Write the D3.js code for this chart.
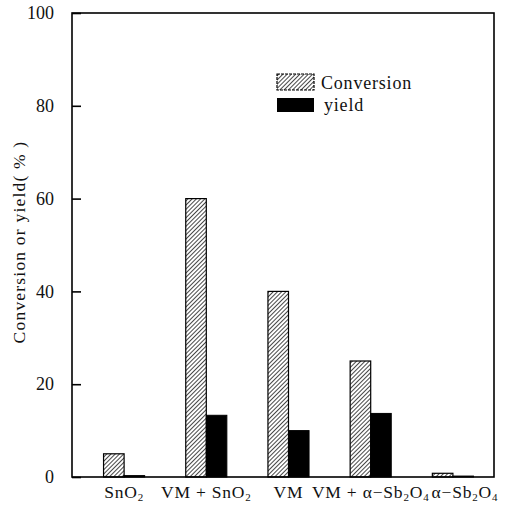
<!DOCTYPE html>
<html><head><meta charset="utf-8">
<script src="https://cdn.jsdelivr.net/npm/d3@7"></script>
<style>body{margin:0;background:#fff}svg{display:block}text{font-family:"Liberation Serif","DejaVu Serif",serif;fill:#111}</style>
</head><body><svg id="c" width="505" height="507"></svg>
<script>
const categories = ["SnO2", "VM+SnO2", "VM", "VM+α−Sb2O4", "α−Sb2O4"];
const conversion = [5, 60, 40, 25, 0.8];
const yieldVals = [0.3, 13.3, 10, 13.7, 0.2];
const yTicks = [0, 20, 40, 60, 80, 100];
const seriesNames = ["Conversion", "yield"];
const yTitle = "Conversion or yield( % )";

const FONT = '"Liberation Serif","DejaVu Serif",serif';
const svg = d3.select("#c");
const L = 72, R = 494, T = 13, B = 477;
const y = d3.scaleLinear().domain([0, 100]).range([B, T]);
const x = d3.scaleBand().domain(categories).range([83, 494]).padding(0);
const xs = d3.scaleBand().domain(["c", "y"]).range([0, x.bandwidth()]).paddingInner(0).paddingOuter(1);

const defs = svg.append("defs");
const pat = defs.append("pattern").attr("id", "hatch").attr("patternUnits", "userSpaceOnUse")
  .attr("width", 3).attr("height", 3).attr("patternTransform", "rotate(45)");
pat.append("rect").attr("width", 3).attr("height", 3).attr("fill", "#fff");
pat.append("line").attr("x1", 0.5).attr("x2", 0.5).attr("y1", 0).attr("y2", 3).attr("stroke", "#333").attr("stroke-width", 0.9);

// bars
const g = svg.append("g");
categories.forEach((c, i) => {
  g.append("rect").attr("x", x(c) + xs("c")).attr("width", xs.bandwidth())
    .attr("y", y(conversion[i])).attr("height", y(0) - y(conversion[i]))
    .attr("fill", "url(#hatch)").attr("stroke", "#000").attr("stroke-width", 1.2);
  g.append("rect").attr("x", x(c) + xs("y")).attr("width", xs.bandwidth())
    .attr("y", y(yieldVals[i])).attr("height", y(0) - y(yieldVals[i]))
    .attr("fill", "#000").attr("stroke", "#000").attr("stroke-width", 1);
});

// frame
svg.append("rect").attr("x", L).attr("y", T).attr("width", R - L).attr("height", B - T)
  .attr("fill", "none").attr("stroke", "#000").attr("stroke-width", 1.6);

// y axis
const yAxis = d3.axisLeft(y).tickValues(yTicks).tickSizeInner(-9).tickSizeOuter(0).tickPadding(18);
const ya = svg.append("g").attr("transform", `translate(${L},0)`).call(yAxis)
  .attr("font-family", FONT).attr("font-size", 18);
ya.select(".domain").remove();
ya.selectAll(".tick line").attr("stroke", "#000").attr("stroke-width", 1.6);
ya.selectAll(".tick text").attr("fill", "#111");

svg.append("text").attr("transform", `translate(25,242) rotate(-90)`)
  .attr("text-anchor", "middle").attr("font-size", 17.5).attr("letter-spacing", 1.2).text(yTitle);

// x labels
function addLabel(sel, s) {
  const parts = s.replace("+", " + ").match(/(\d+|[^\d]+)/g);
  let shifted = false;
  parts.forEach(p => {
    if (/^\d+$/.test(p)) {
      sel.append("tspan").attr("font-size", 11).attr("dy", 3).text(p);
      shifted = true;
    } else {
      const ts = sel.append("tspan").text(p);
      if (shifted) { ts.attr("dy", -3); shifted = false; }
    }
  });
}
let prevEnd = -Infinity;
categories.forEach((c, i) => {
  const cx = x(c) + x.bandwidth() / 2;
  const t = svg.append("text").attr("y", 498).attr("font-size", 17.5).attr("letter-spacing", 0.8)
    .attr("text-anchor", "start");
  addLabel(t, c);
  const w = t.node().getComputedTextLength();
  let sx = cx - w / 2;
  if (sx < prevEnd + 2) sx = prevEnd + 2;
  t.attr("x", sx);
  prevEnd = sx + w;
});

// legend
const lg = svg.append("g");
lg.append("rect").attr("x", 277).attr("y", 74).attr("width", 37).attr("height", 16)
  .attr("fill", "url(#hatch)").attr("stroke", "#000").attr("stroke-width", 1.2).attr("stroke-dasharray", "3,1");
lg.append("rect").attr("x", 277).attr("y", 98).attr("width", 37).attr("height", 14).attr("fill", "#000");
lg.append("text").attr("x", 321).attr("y", 89).attr("font-size", 18).attr("letter-spacing", 0.8).text(seriesNames[0]);
lg.append("text").attr("x", 324).attr("y", 111).attr("font-size", 18).attr("letter-spacing", 0.8).text(seriesNames[1]);
</script></body></html>
